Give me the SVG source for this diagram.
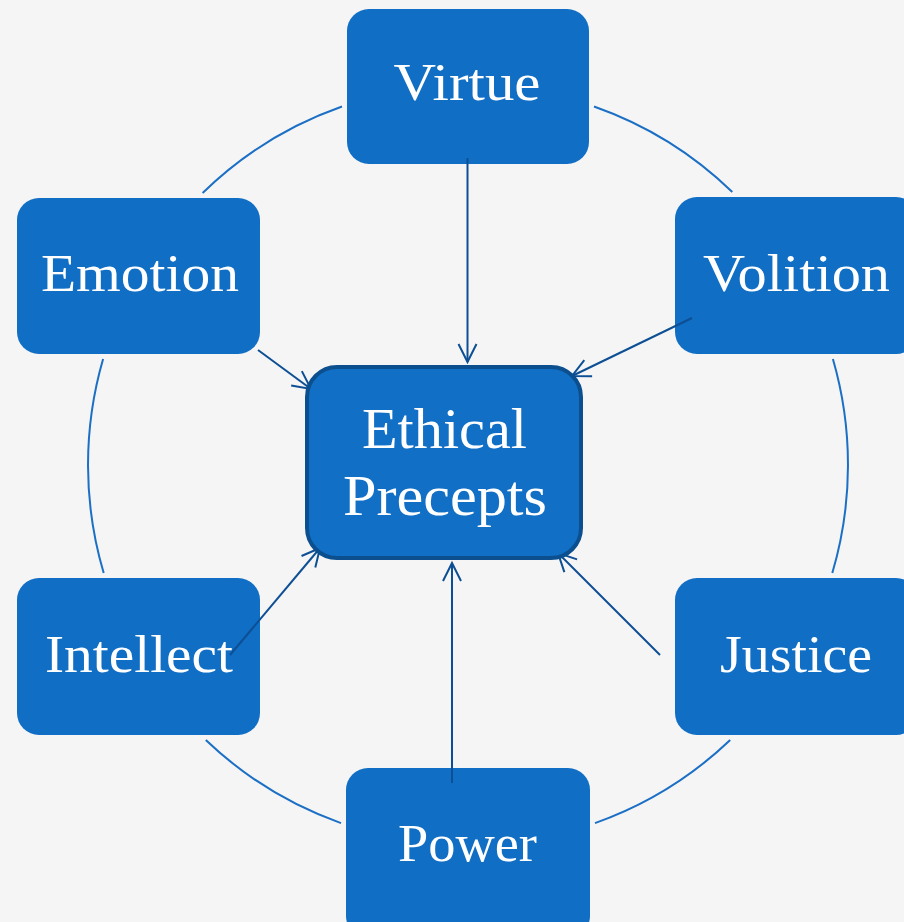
<svg xmlns="http://www.w3.org/2000/svg" width="904" height="922" viewBox="0 0 904 922">
  <style>
    .box { fill: #106ec4; }
    .hub { fill: #116fc5; stroke: #0c4f8f; stroke-width: 4; }
    .label { fill: #ffffff; font-family: "Liberation Serif", "DejaVu Serif", serif; font-size: 53px; text-anchor: middle; }
    .hub-label { font-size: 57px; }
    .ring { fill: none; stroke: #1b6fc4; stroke-width: 2; }
    .link { fill: none; stroke: #0d4f94; stroke-width: 2; marker-end: url(#arrow); }
  </style>
  <defs>
    <marker id="arrow" markerUnits="userSpaceOnUse" viewBox="-22 -12 26 24" markerWidth="26" markerHeight="24" refX="0" refY="0" orient="auto" overflow="visible">
      <path d="M -18 -9 L 0 0 L -18 9" fill="none" stroke="#0d4f94" stroke-width="2"/>
    </marker>
  </defs>

  <rect width="904" height="922" fill="#f5f5f5"/>

  <!-- cycle ring, broken around each outer box -->
  <g id="ring">
    <path class="ring" d="M 202.6 193 A 380 380 0 0 1 342 106.5"/>
    <path class="ring" d="M 594 106.5 A 380 380 0 0 1 732.3 192"/>
    <path class="ring" d="M 832.9 359 A 380 380 0 0 1 832.3 573"/>
    <path class="ring" d="M 730.2 740 A 380 380 0 0 1 595 823.1"/>
    <path class="ring" d="M 341 823.1 A 380 380 0 0 1 205.8 740"/>
    <path class="ring" d="M 103.7 573 A 380 380 0 0 1 103.1 359"/>
  </g>

  <g id="node-virtue">
    <rect class="box" x="347" y="9" width="242" height="155" rx="22"/>
    <text class="label" x="467" y="100" textLength="147" lengthAdjust="spacingAndGlyphs">Virtue</text>
  </g>
  <g id="node-emotion">
    <rect class="box" x="17" y="198" width="243" height="156" rx="22"/>
    <text class="label" x="140" y="291" textLength="198" lengthAdjust="spacingAndGlyphs">Emotion</text>
  </g>
  <g id="node-volition">
    <rect class="box" x="675" y="197" width="243" height="157" rx="22"/>
    <text class="label" x="796.5" y="291" textLength="187" lengthAdjust="spacingAndGlyphs">Volition</text>
  </g>
  <g id="node-intellect">
    <rect class="box" x="17" y="578" width="243" height="157" rx="22"/>
    <text class="label" x="139" y="672" textLength="188" lengthAdjust="spacingAndGlyphs">Intellect</text>
  </g>
  <g id="node-justice">
    <rect class="box" x="675" y="578" width="243" height="157" rx="22"/>
    <text class="label" x="796" y="672" textLength="152" lengthAdjust="spacingAndGlyphs">Justice</text>
  </g>
  <g id="node-power">
    <rect class="box" x="346" y="768" width="244" height="170" rx="22"/>
    <text class="label" x="467.5" y="861" textLength="139" lengthAdjust="spacingAndGlyphs">Power</text>
  </g>

  <!-- spokes into the hub -->
  <g id="connectors">
    <line class="link" x1="467.5" y1="158" x2="467.5" y2="362"/>
    <line class="link" x1="692" y1="318" x2="572" y2="376"/>
    <line class="link" x1="258" y1="350" x2="311" y2="389"/>
    <line class="link" x1="230" y1="655" x2="320" y2="548"/>
    <line class="link" x1="660" y1="655" x2="558" y2="553"/>
    <line class="link" x1="452" y1="783" x2="452" y2="563"/>
  </g>

  <g id="node-ethical-precepts">
    <rect class="hub" x="307" y="367" width="274" height="191" rx="30"/>
    <text class="label hub-label" x="444.5" y="448" textLength="165" lengthAdjust="spacingAndGlyphs">Ethical</text>
    <text class="label hub-label" x="445" y="515" textLength="204" lengthAdjust="spacingAndGlyphs">Precepts</text>
  </g>
</svg>
